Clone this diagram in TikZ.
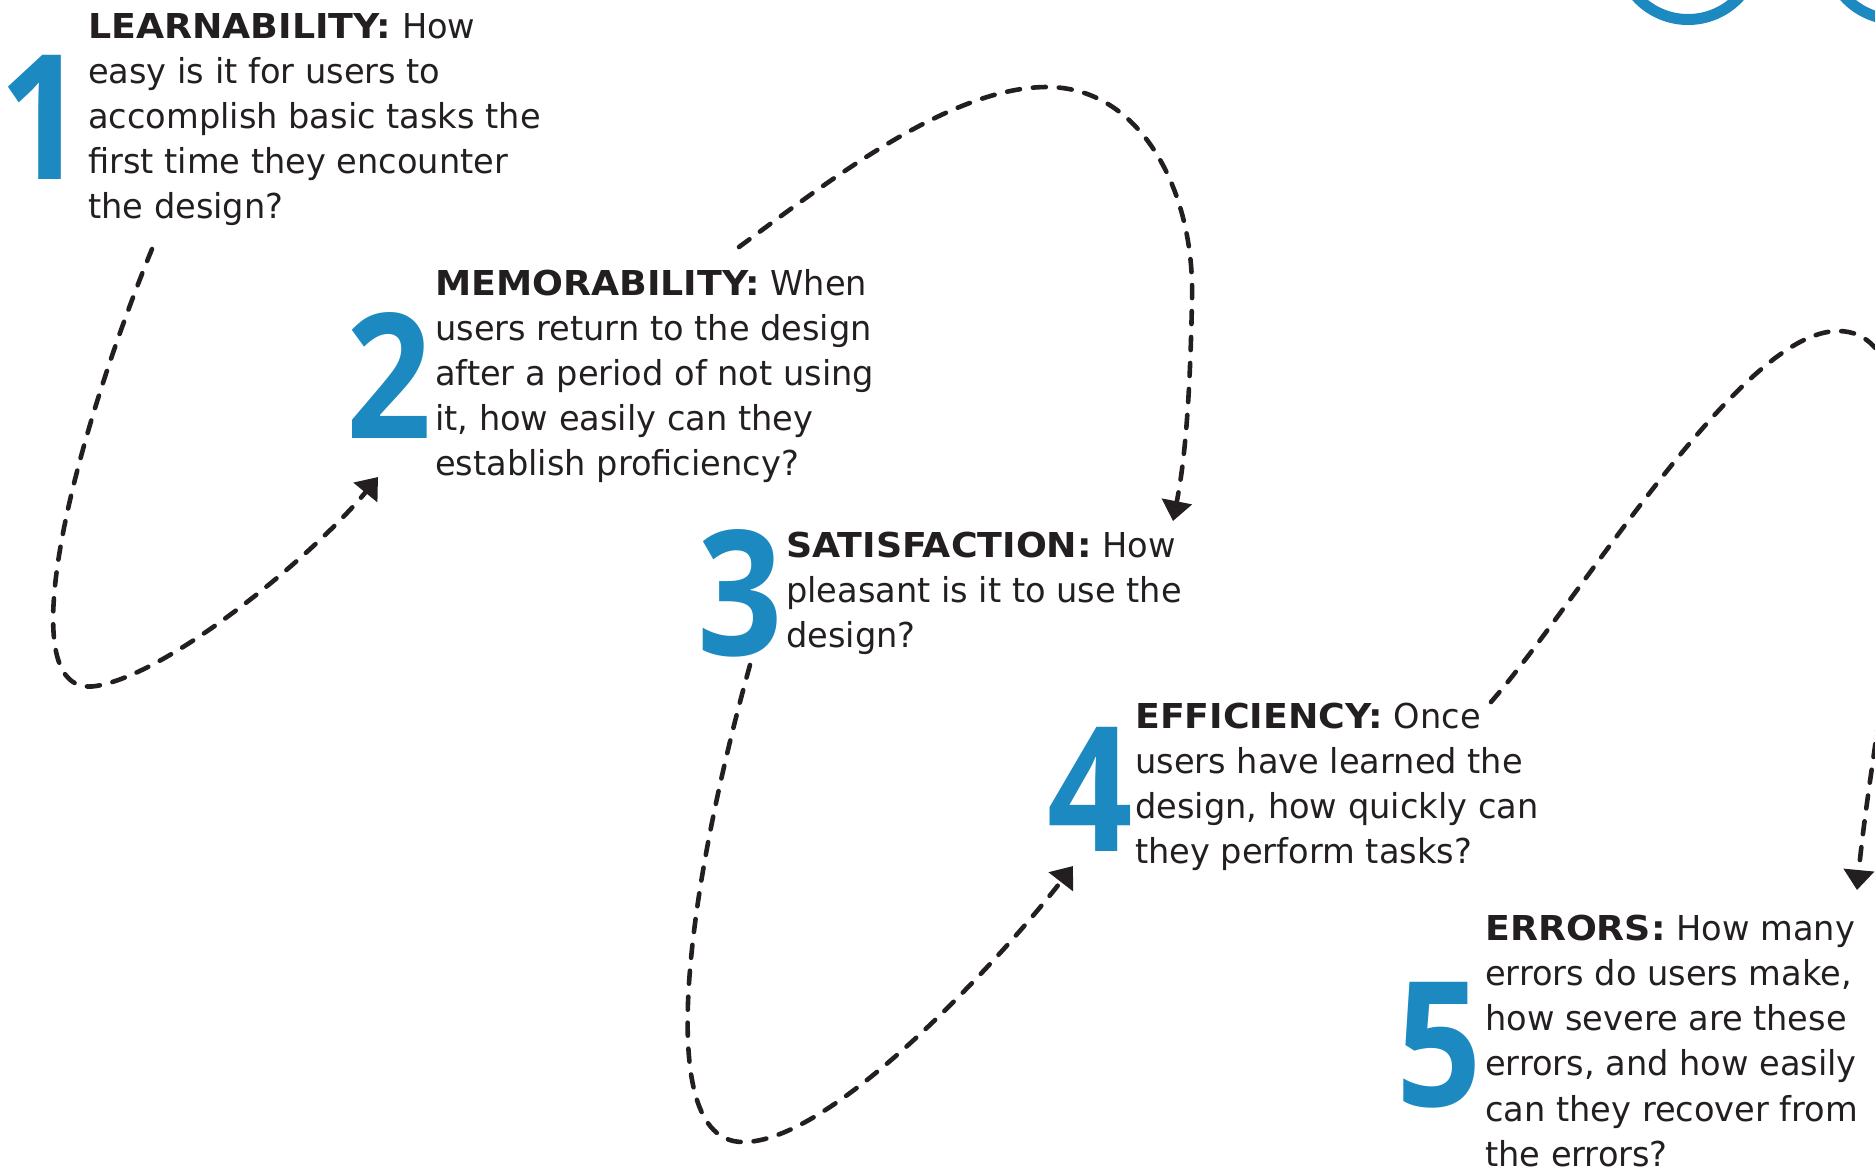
\documentclass[tikz,border=0pt]{standalone}
\usepackage{fontspec}
\setmainfont{DejaVu Sans}[FakeStretch=0.98]
\newfontfamily\keyfont{DejaVu Sans}[FakeStretch=1.06]
\newfontfamily\numfont{Open Sans}
\usetikzlibrary{arrows.meta}
\definecolor{numblue}{RGB}{28,137,192}
\definecolor{ink}{RGB}{35,31,32}
\newcommand{\key}[1]{{\keyfont\bfseries #1}}
\newcommand{\bignum}[1]{\scalebox{0.86}[1]{\numfont\bfseries #1}}

\begin{document}
\begin{tikzpicture}[x=1pt,y=-1pt,
  num/.style={anchor=base,inner sep=0,text=numblue,font=\fontsize{174}{174}\selectfont},
  txt/.style={anchor=north west,inner sep=0,align=left,text=ink,font=\fontsize{34.3}{45.1}\selectfont},
  link/.style={draw=ink,line width=4.6pt,line cap=round,dash pattern=on 13pt off 13pt,
    -{Triangle[length=20pt,width=30pt]}},
  ring/.style={draw=numblue,line width=11pt}]
\useasboundingbox (0,0) rectangle (1875,1171);
\clip (0,0) rectangle (1875,1171);

\draw[ring] (1688,-50) circle[radius=69.5];
\draw[ring] (1896,-50) circle[radius=69.5];

\node[num] (n1) at (42,179) {\bignum{1}};
\node[txt] (t1) at (88,13) {\key{LEARNABILITY:} How\\easy is it for users to\\accomplish basic tasks the\\first time they encounter\\the design?};
\node[num] (n2) at (389,438) {\bignum{2}};
\node[txt] (t2) at (435,269) {\key{MEMORABILITY:} When\\users return to the design\\after a period of not using\\it, how easily can they\\establish proficiency?};
\node[num] (n3) at (740,655) {\bignum{3}};
\node[txt] (t3) at (786,532) {\key{SATISFACTION:} How\\pleasant is it to use the\\design?};
\node[num] (n4) at (1090,851) {\bignum{4}};
\node[txt] (t4) at (1135,703) {\key{EFFICIENCY:} Once\\users have learned the\\design, how quickly can\\they perform tasks?};
\node[num] (n5) at (1439,1106) {\bignum{5}};
\node[txt] (t5) at (1485,915) {\key{ERRORS:} How many\\errors do users make,\\how severe are these\\errors, and how easily\\can they recover from\\the errors?};

\coordinate (from1) at (152,249);
\coordinate (to2) at (378,477);
\coordinate (from2) at (739,247);
\coordinate (to3) at (1173,521);
\coordinate (from3) at (750,665);
\coordinate (to4) at (1073,866);
\coordinate (from4) at (1491,702);
\coordinate (to5) at (1857,890);

\draw[link] (from1) .. controls (70,450) and (8,700) .. (96,686) .. controls (170,674) and (315,554) .. (to2);
\draw[link] (from2) .. controls (830,180) and (950,87) .. (1047,87) .. controls (1140,87) and (1195,190) .. (1192,300) .. controls (1190,400) and (1185,460) .. (to3);
\draw[link] (from3) .. controls (690,880) and (650,1140) .. (742,1142) .. controls (830,1144) and (1000,960) .. (to4);
\draw[link] (from4) .. controls (1580,600) and (1740,331) .. (1838,331) .. controls (1960,331) and (1875,700) .. (to5);
\end{tikzpicture}
\end{document}
